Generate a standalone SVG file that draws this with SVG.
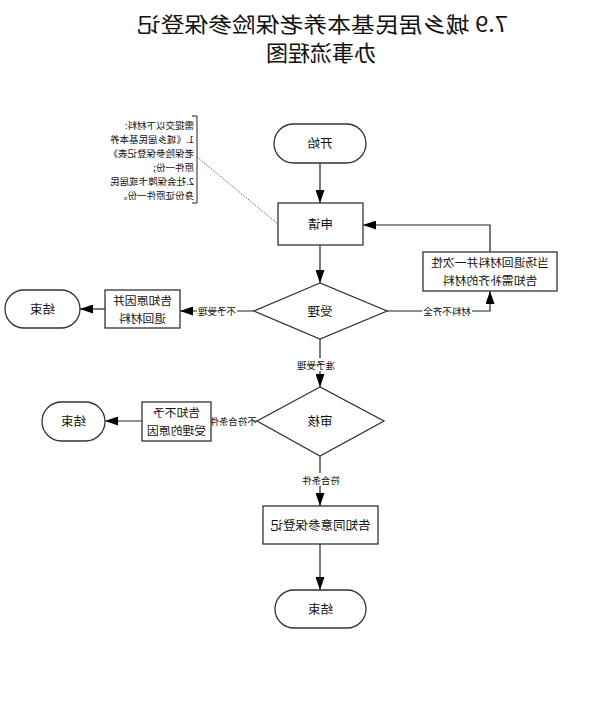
<svg xmlns="http://www.w3.org/2000/svg" width="596" height="724" viewBox="0 0 596 724">
<style>
text{font-family:"Noto Sans CJK SC","Liberation Sans",sans-serif;fill:#111}
.box{fill:#fff;stroke:#333;stroke-width:1.3}
.nt{font-size:12.5px;text-anchor:middle}
.nt2{font-size:11.8px;text-anchor:middle}
.lbl{font-size:9.5px;text-anchor:middle}
.note{font-size:9.5px}
.ln{fill:none;stroke:#222;stroke-width:1.2}
.wb{fill:#fff}
</style>
<defs>
<marker id="ar" markerUnits="userSpaceOnUse" markerWidth="13" markerHeight="9" refX="13" refY="4.5" orient="auto">
<path d="M0,0 L13,4.5 L0,9 z" fill="#000"/>
</marker>
</defs>
<rect width="596" height="724" fill="#fff"/>
<g transform="matrix(-1 0 0 1 596 0)">
<g id="title">
<text x="88" y="32" font-size="21" textLength="371" lengthAdjust="spacingAndGlyphs">7.9 城乡居民基本养老保险参保登记</text>
<text x="275" y="61" font-size="22" text-anchor="middle">办事流程图</text>
</g>
<g id="connectors">
<path class="ln" d="M276,163 V203" marker-end="url(#ar)"/>
<path class="ln" d="M276,245 V283" marker-end="url(#ar)"/>
<path class="ln" d="M209,311 H106 V291" marker-end="url(#ar)"/>
<path class="ln" d="M106,252 V225 H233" marker-end="url(#ar)"/>
<path class="ln" d="M342,311 H416" marker-end="url(#ar)"/>
<path class="ln" d="M491,309 H516" marker-end="url(#ar)"/>
<path class="ln" d="M276,339 V387" marker-end="url(#ar)"/>
<path class="ln" d="M339,421 H385" marker-end="url(#ar)"/>
<path class="ln" d="M454,421 H491" marker-end="url(#ar)"/>
<path class="ln" d="M276,456 V506" marker-end="url(#ar)"/>
<path class="ln" d="M276,544 V590" marker-end="url(#ar)"/>
<path d="M399,157 L318,224" fill="none" stroke="#333" stroke-width="0.8" stroke-dasharray="1.5,1.5"/>
<rect class="wb" x="124" y="304" width="50" height="13"/>
<text class="lbl" x="149" y="314.5">材料不齐全</text>
<rect class="wb" x="359" y="304" width="40" height="13"/>
<text class="lbl" x="379" y="314.5">不予受理</text>
<rect class="wb" x="258" y="358" width="44" height="13"/>
<text class="lbl" x="280" y="368.5">准予受理</text>
<rect class="wb" x="342" y="414" width="43" height="13"/>
<text class="lbl" x="363" y="424.5">不符合条件</text>
<rect class="wb" x="253" y="473" width="44" height="13"/>
<text class="lbl" x="275" y="483.5">符合条件</text>
</g>
<g id="note">
<path d="M404,116 H399 V203 H404" fill="none" stroke="#222" stroke-width="1"/>
<text class="note" x="402" y="129">需提交以下材料:</text>
<text class="note" x="402" y="143">1.《城乡居民基本养</text>
<text class="note" x="402" y="157">老保险参保登记表》</text>
<text class="note" x="402" y="171">原件一份;</text>
<text class="note" x="402" y="185">2.社会保障卡或居民</text>
<text class="note" x="402" y="199">身份证原件一份。</text>
</g>
<g id="start">
<rect class="box" x="230" y="124" width="92" height="39" rx="19.5"/>
<text class="nt" x="276" y="148">开始</text>
</g>
<g id="apply">
<rect class="box" x="233" y="203" width="85" height="42"/>
<text class="nt" x="275.5" y="228.5">申请</text>
</g>
<g id="accept">
<polygon class="box" points="276,283 342,311 276,339 209,311"/>
<text class="nt" x="276" y="315.5">受理</text>
</g>
<g id="return-once">
<rect class="box" x="39" y="252" width="134" height="39"/>
<text class="nt2" x="106" y="267">当场退回材料并一次性</text>
<text class="nt2" x="106" y="285">告知需补齐的材料</text>
</g>
<g id="reject-box">
<rect class="box" x="416" y="290" width="75" height="38"/>
<text class="nt2" x="453.5" y="305">告知原因并</text>
<text class="nt2" x="453.5" y="323">退回材料</text>
</g>
<g id="end1">
<rect class="box" x="516" y="290" width="75" height="38" rx="19"/>
<text class="nt" x="553.5" y="313.5">结束</text>
</g>
<g id="review">
<polygon class="box" points="276,387 339,421 276,456 212,421"/>
<text class="nt" x="276" y="426">审核</text>
</g>
<g id="unqualified-box">
<rect class="box" x="385" y="402" width="69" height="39"/>
<text class="nt2" x="419.5" y="417">告知不予</text>
<text class="nt2" x="419.5" y="435">受理的原因</text>
</g>
<g id="end2">
<rect class="box" x="491" y="402" width="63" height="39" rx="19.5"/>
<text class="nt" x="522.5" y="426">结束</text>
</g>
<g id="agree">
<rect class="box" x="218" y="506" width="115" height="38"/>
<text class="nt" x="275.5" y="529.5">告知同意参保登记</text>
</g>
<g id="end3">
<rect class="box" x="230" y="590" width="91" height="38" rx="19"/>
<text class="nt" x="275.5" y="613.5">结束</text>
</g>
</g>
</svg>
